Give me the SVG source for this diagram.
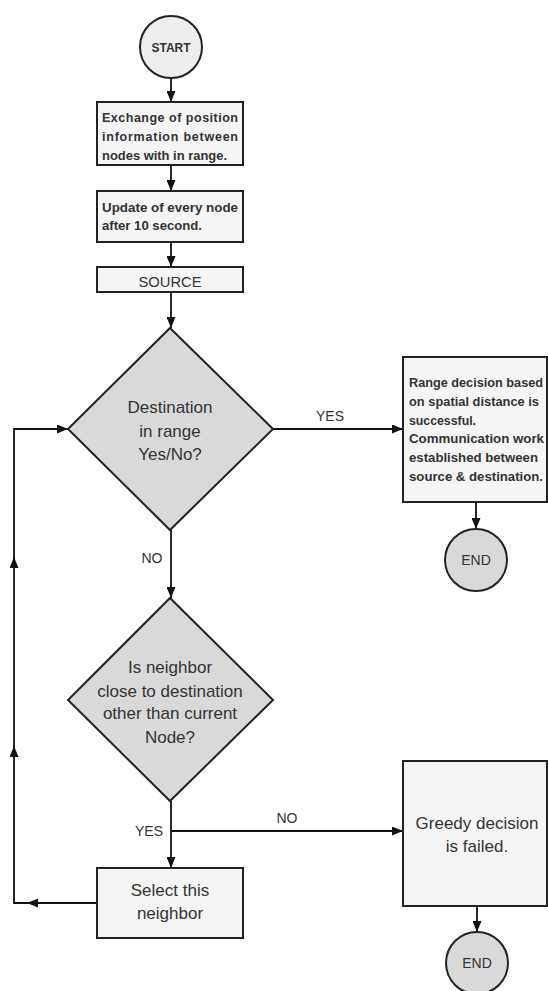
<svg xmlns="http://www.w3.org/2000/svg" width="548" height="991" viewBox="0 0 548 991">
<style>
.box{fill:#f5f5f5;stroke:#222;stroke-width:2}
.dia{fill:#d9d9d9;stroke:#222;stroke-width:2}
.cs{fill:#eeeeee;stroke:#222;stroke-width:2}
.ce{fill:#d9d9d9;stroke:#222;stroke-width:2}
.con{fill:none;stroke:#111;stroke-width:1.8}
text{font-family:"Liberation Sans","DejaVu Sans",sans-serif;fill:#333}
.b{font-size:12.5px;font-weight:bold}
.m{font-size:17px;text-anchor:middle}
.l{font-size:14px}
</style>
<defs>
<marker id="ah" markerUnits="userSpaceOnUse" markerWidth="11" markerHeight="9" refX="11" refY="4.5" orient="auto">
<path d="M0,0 L11,4.5 L0,9 z" fill="#111"/>
</marker>
</defs>
<rect width="548" height="991" fill="#fff"/>
<g id="connectors">
<path class="con" d="M171,78 V102" marker-end="url(#ah)"/>
<path class="con" d="M171,165 V191" marker-end="url(#ah)"/>
<path class="con" d="M171,242 V267" marker-end="url(#ah)"/>
<path class="con" d="M171,292 V328" marker-end="url(#ah)"/>
<path class="con" d="M273,429 H403" marker-end="url(#ah)"/>
<path class="con" d="M476,502 V529" marker-end="url(#ah)"/>
<path class="con" d="M171,530 V598" marker-end="url(#ah)"/>
<path class="con" d="M171,801 V868" marker-end="url(#ah)"/>
<path class="con" d="M171,831 H403" marker-end="url(#ah)"/>
<path class="con" d="M477,906 V932" marker-end="url(#ah)"/>
<path class="con" d="M97,903 H27" marker-end="url(#ah)"/>
<path class="con" d="M28,903 H14 V746" marker-end="url(#ah)"/>
<path class="con" d="M14,747 V557" marker-end="url(#ah)"/>
<path class="con" d="M14,558 V429 H68" marker-end="url(#ah)"/>
<text class="l" x="330" y="421" text-anchor="middle">YES</text>
<text class="l" x="152" y="563" text-anchor="middle">NO</text>
<text class="l" x="163" y="836" text-anchor="end">YES</text>
<text class="l" x="287" y="823" text-anchor="middle">NO</text>
</g>
<g id="start">
<circle class="cs" cx="171" cy="47" r="31"/>
<text x="171" y="51.5" text-anchor="middle" style="font-size:12px;font-weight:bold">START</text>
</g>
<g id="exchange">
<rect class="box" x="97" y="102" width="146" height="63"/>
<text class="b" x="102" y="121.5" textLength="136" lengthAdjust="spacing">Exchange of position</text>
<text class="b" x="102" y="141" textLength="136" lengthAdjust="spacing">information between</text>
<text class="b" x="102" y="159.5" textLength="125" lengthAdjust="spacingAndGlyphs">nodes with in range.</text>
</g>
<g id="update">
<rect class="box" x="97" y="191" width="146" height="51"/>
<text class="b" x="102" y="211.5" textLength="136" lengthAdjust="spacingAndGlyphs">Update of every node</text>
<text class="b" x="102" y="229.5" textLength="100" lengthAdjust="spacingAndGlyphs">after 10 second.</text>
</g>
<g id="source">
<rect class="box" x="97" y="267" width="146" height="25"/>
<text class="m" x="170" y="287" style="font-size:15px" textLength="63" lengthAdjust="spacingAndGlyphs">SOURCE</text>
</g>
<g id="decision1">
<polygon class="dia" points="170,328 273,429 170,530 68,429"/>
<text class="m" x="170" y="413">Destination</text>
<text class="m" x="170" y="437">in range</text>
<text class="m" x="170" y="460">Yes/No?</text>
</g>
<g id="success">
<rect class="box" x="403" y="357" width="144" height="145"/>
<text class="b" x="409" y="386.5" textLength="134" lengthAdjust="spacingAndGlyphs">Range decision based</text>
<text class="b" x="409" y="405.5" textLength="130" lengthAdjust="spacingAndGlyphs">on spatial distance is</text>
<text class="b" x="409" y="424.5" textLength="67" lengthAdjust="spacingAndGlyphs">successful.</text>
<text class="b" x="409" y="442.5" textLength="135" lengthAdjust="spacingAndGlyphs">Communication work</text>
<text class="b" x="409" y="461.5" textLength="129" lengthAdjust="spacingAndGlyphs">established between</text>
<text class="b" x="409" y="480.5" textLength="134" lengthAdjust="spacingAndGlyphs">source &amp; destination.</text>
</g>
<g id="end1">
<circle class="ce" cx="476" cy="560" r="31"/>
<text x="476" y="565" text-anchor="middle" style="font-size:14px">END</text>
</g>
<g id="decision2">
<polygon class="dia" points="170,598 273,700 170,801 68,700"/>
<text class="m" x="170" y="673">Is neighbor</text>
<text class="m" x="170" y="697">close to destination</text>
<text class="m" x="170" y="719">other than current</text>
<text class="m" x="170" y="743">Node?</text>
</g>
<g id="select">
<rect class="box" x="97" y="868" width="146" height="70"/>
<text class="m" x="170" y="896">Select this</text>
<text class="m" x="170" y="919">neighbor</text>
</g>
<g id="failed">
<rect class="box" x="403" y="761" width="144" height="145"/>
<text class="m" x="477" y="829">Greedy decision</text>
<text class="m" x="477" y="852">is failed.</text>
</g>
<g id="end2">
<circle class="ce" cx="477" cy="963" r="31"/>
<text x="477" y="968" text-anchor="middle" style="font-size:14px">END</text>
</g>
</svg>
